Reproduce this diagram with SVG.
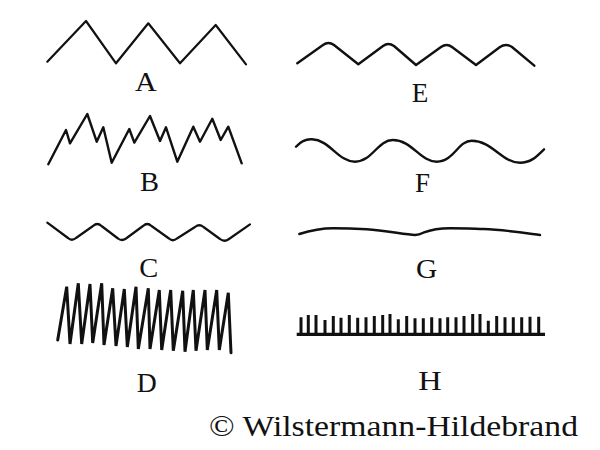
<svg xmlns="http://www.w3.org/2000/svg" width="600" height="450" viewBox="0 0 600 450">
<style>
.w{fill:none;stroke:#111;stroke-width:2.2;stroke-linejoin:round;stroke-linecap:round}
.lbl{font-family:"Liberation Serif","Times New Roman",serif;font-size:27px;fill:#111}
.t{stroke:#111;stroke-width:3}
</style>
<rect width="600" height="450" fill="#fff"/>
<g id="A">
<polyline class="w" points="47.3,61.7 86,21 116,63.3 148.3,23.3 180,63.3 215.7,25 246,64.3"/>
<text class="lbl" x="135" y="90.5" textLength="21.7" lengthAdjust="spacingAndGlyphs">A</text>
</g>
<g id="B">
<polyline class="w" style="stroke-width:2.4" points="48.3,164.3 66,130 70,143.3 87.3,114 96.7,141.7 103.3,127.3 111.7,162.7 129.3,129 134.3,142.7 150,116 160,141 166,127.3 177.3,161.7 193.3,126.7 200,141.7 212.3,118.7 220.7,140 228.3,126.7 241.7,163.3"/>
<text class="lbl" x="140" y="190.5" textLength="19" lengthAdjust="spacingAndGlyphs">B</text>
</g>
<g id="C">
<path class="w" d="M47.3,222.7 L68,238 Q71.7,241.5 76,238 L93,226 Q97.3,222 101.5,226 L118,238.5 Q121.7,241.5 126,238.5 L143,226 Q147.3,222 151.5,226 L169,238.5 Q172.7,242 177,238.5 L195,227 Q199.3,223.5 203.5,227 L220,239 Q224.3,242.5 229,239 L250,224.3"/>
<text class="lbl" x="139.3" y="276.5" textLength="19" lengthAdjust="spacingAndGlyphs">C</text>
</g>
<g id="D">
<polyline class="w" style="stroke-width:3;stroke-linejoin:miter;stroke-miterlimit:2" points="57.7,340 66.7,286.7 70,344 78.3,283.3 81.7,344 90,284 92.7,343 101.7,283.3 104,345 112.7,288.3 116,346 124.3,289 127.3,347 136,286.7 138.3,349 148.3,288.3 150,349 159.3,290 161.7,350 170.7,290 173.3,350.7 182.7,290.7 185,351.7 193.3,290 196,350.7 205,290 207.3,350 216.7,290 219.3,350 228.3,292.7 231,352.7"/>
<text class="lbl" x="136.7" y="391.5" textLength="20" lengthAdjust="spacingAndGlyphs">D</text>
</g>
<g id="E">
<path class="w" style="stroke-width:2.4" d="M297.3,63.3 L323,45 Q328.3,41 334,45 L358.3,64.3 L383,46 Q388.3,42 394,46 L416,65 L441,47 Q446.7,43 452,47 L476,65 L500,47 Q506,43 512,47 L534.3,65.7"/>
<text class="lbl" x="411.7" y="101.5" textLength="16.6" lengthAdjust="spacingAndGlyphs">E</text>
</g>
<g id="F">
<path class="w" style="stroke-width:2.4" d="M296,146.7 C302,140 307,139 312,139.3 C330,140 338,161.7 355,161.7 C372,161.7 378,140 392.7,140 C412,140 420,161.7 436.7,161.7 C454,161.7 458,140.7 471.7,140.7 C492,140.7 502,162.7 520,162.7 C532,162.7 538,155 544,149.3"/>
<text class="lbl" x="415" y="191.5" textLength="15" lengthAdjust="spacingAndGlyphs">F</text>
</g>
<g id="G">
<path class="w" style="stroke-width:2.4" d="M299.3,234 C312,230 322,228.3 333.3,228.3 C348,228.3 358,228.8 366.7,229.3 C385,230.5 405,234.5 415,235 Q419,235 423.3,232.7 C432,229.5 440,228.3 450,228.3 C462,228.3 472,228.7 483.3,229 C505,229.8 525,233 540,235"/>
<text class="lbl" x="416" y="278" textLength="21.3" lengthAdjust="spacingAndGlyphs">G</text>
</g>
<g id="H">
<line x1="296.7" y1="334.3" x2="545" y2="334.3" stroke="#111" stroke-width="3.2"/>
<path class="t" d="M301,334 V317.3 M308.3,334 V315 M316,334 V315 M325,334 V320 M333.3,334 V316 M341,334 V317.7 M349.3,334 V315 M357.7,334 V317.7 M366,334 V317.3 M374.3,334 V316 M382.7,334 V315 M390,334 V314 M398.3,334 V319.3 M406.7,334 V316 M415,334 V318.3 M423.3,334 V318.3 M431.7,334 V317.3 M440,334 V318.3 M447.7,334 V317.3 M456,334 V317.3 M464,334 V316 M472.7,334 V314 M480,334 V314 M488.3,334 V320.7 M496.7,334 V316 M505,334 V317.3 M513.3,334 V317.3 M521.7,334 V317.3 M530,334 V316.7 M538.7,334 V316.7"/>
<text class="lbl" x="418.3" y="390" textLength="23.4" lengthAdjust="spacingAndGlyphs">H</text>
</g>
<text class="lbl" x="209" y="436" style="font-size:30px" textLength="369" lengthAdjust="spacingAndGlyphs">© Wilstermann-Hildebrand</text>
</svg>
